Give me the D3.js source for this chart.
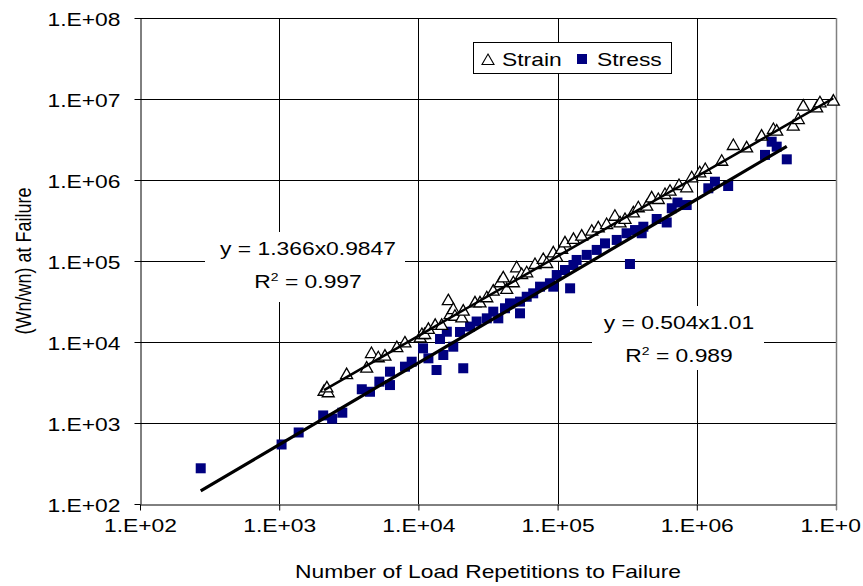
<!DOCTYPE html>
<html><head><meta charset="utf-8">
<script src="https://cdn.jsdelivr.net/npm/d3@7"></script>
<style>
body{margin:0;background:#fff}
svg{display:block}
text{font-family:"Liberation Sans",Arial,Helvetica,sans-serif;fill:#000}
</style>
</head><body><div id="chart"></div>
<script>
// ---------- data ----------
const strainN=[2100,2250,2200,3050,4250,4600,5150,5750,7000,8000,10300,10600,11100,11800,13200,14700,16400,16900,17800,18300,20500,21000,25500,27700,31000,34500,38600,40700,43100,48100,50800,55200,60000,68800,78900,83500,93100,98600,107000,113000,130000,149000,176000,196000,225000,258000,281000,305000,350000,380000,437000,474000,529000,591000,642000,745000,846000,919000,1050000,1150000,1510000,1830000,2280000,2920000,3550000,3750000,4930000,5360000,5820000,7260000,7670000,9570000];
const strainW=[2430,2330,2680,3900,4700,7100,6300,6600,8400,9600,11100,12200,12200,14100,15800,15800,31900,21500,24800,20500,19600,23700,30000,30000,34700,41800,53100,61100,43900,53100,81300,67100,70500,89300,103000,91800,124000,109000,137000,165000,182000,200000,230000,253000,278000,352000,292000,321000,388000,448000,468000,594000,566000,653000,717000,843000,790000,1050000,1210000,1330000,1680000,2630000,2460000,3430000,4140000,3950000,4550000,5500000,8040000,7670000,8850000,9270000];
const stressN=[273,1040,1380,2070,2400,2840,3920,4490,5240,6250,6250,8010,8950,10800,11800,13500,14300,15100,16000,17800,19900,21000,23500,26200,31000,34500,37500,41900,45500,53700,53700,60000,66800,74800,88100,93100,98600,113000,123000,130000,137000,162000,191000,219000,266000,313000,331000,360000,413000,402000,515000,608000,661000,726000,846000,1210000,1350000,1680000,3090000,3450000,3750000,4430000];
const stressW=[276,543,764,1240,1130,1340,2610,2430,3240,2940,4300,4960,5710,8360,6290,4510,10900,6910,13400,8750,13300,4740,15500,17900,19600,23700,19600,26100,30000,22600,31500,36200,39900,48200,53100,48200,67100,77400,46000,89300,103000,119000,137000,165000,182000,220000,91800,241000,265000,220000,330000,299000,448000,527000,491000,790000,953000,843000,2040000,2970000,2580000,1800000];

const xTicks=[1e2,1e3,1e4,1e5,1e6,1e7];
// the last label is cut at the chart's right edge in the reference
const xTickLabels=["1.E+02","1.E+03","1.E+04","1.E+05","1.E+06","1.E+0"];
const yTicks=[1e2,1e3,1e4,1e5,1e6,1e7,1e8];
const yTickLabels=["1.E+02","1.E+03","1.E+04","1.E+05","1.E+06","1.E+07","1.E+08"];

const seriesNames=["Strain","Stress"];
const strainFit={a:1.366,b:0.9847,eq:"y = 1.366x0.9847",r2:"0.997"};
const stressFit={a:0.504,b:1.01,eq:"y = 0.504x1.01",r2:"0.989"};
const xTitle="Number of Load Repetitions to Failure";
const yTitle="(Wn/wn) at Failure";

// ---------- layout ----------
const W=863,H=586;
const L=140,R=836,T=18,B=504;
const SX=1.27; // horizontal text stretch seen in the reference
const FS=18;
const NAVY="#000080";

const svg=d3.select("#chart").append("svg").attr("width",W).attr("height",H);
svg.append("rect").attr("width",W).attr("height",H).attr("fill","#fff");

const x=d3.scaleLog().domain([1e2,1e7]).range([L,R]);
const y=d3.scaleLog().domain([1e2,1e8]).range([B,T]);

function txt(g,x0,y0,s,anchor){
  return g.append("text")
    .attr("transform",`translate(${x0},${y0}) scale(${SX},1)`)
    .attr("text-anchor",anchor).style("font-size",FS+"px").text(s);
}

// gridlines
const grid=svg.append("g");
grid.selectAll("line.h").data(yTicks.slice(1)).enter().append("line")
  .attr("x1",L).attr("x2",R)
  .attr("y1",d=>Math.round(y(d))+0.5).attr("y2",d=>Math.round(y(d))+0.5)
  .attr("stroke","#000").attr("stroke-width",1);
grid.selectAll("line.v").data(xTicks.slice(1,-1)).enter().append("line")
  .attr("y1",T).attr("y2",B)
  .attr("x1",d=>Math.round(x(d))+0.5).attr("x2",d=>Math.round(x(d))+0.5)
  .attr("stroke","#000").attr("stroke-width",1);
// right border (gray)
grid.append("line").attr("x1",Math.round(x(1e7))+0.5).attr("x2",Math.round(x(1e7))+0.5)
  .attr("y1",T).attr("y2",B+6).attr("stroke","#808080").attr("stroke-width",1.5);

// axes
const yAxis=svg.append("g").attr("transform",`translate(${L+0.5},0)`)
  .call(d3.axisLeft(y).tickValues(yTicks).tickFormat((d,i)=>yTickLabels[i]).tickSize(6).tickSizeOuter(0));
yAxis.select(".domain").attr("stroke","#000");
yAxis.selectAll(".tick line").attr("stroke","#000");
yAxis.selectAll(".tick text")
  .attr("x",null).attr("dy",null)
  .attr("transform",`translate(-20,7) scale(${SX},1)`)
  .attr("text-anchor","end").attr("fill","#000")
  .style("font-size",FS+"px").style("font-family","'Liberation Sans',Arial,sans-serif");

const xAxis=svg.append("g").attr("transform",`translate(0,${B+0.5})`)
  .call(d3.axisBottom(x).tickValues(xTicks).tickFormat((d,i)=>xTickLabels[i]).tickSize(6).tickSizeOuter(0));
xAxis.select(".domain").attr("stroke","#000");
xAxis.selectAll(".tick line").attr("stroke",(d,i)=>i===xTicks.length-1?"#808080":"#000");
const last=xTicks.length-1;
xAxis.selectAll(".tick text")
  .attr("y",null).attr("dy",null)
  .attr("transform",(d,i)=>i===last?`translate(-36,27) scale(${SX},1)`:`translate(0,27) scale(${SX},1)`)
  .attr("text-anchor",(d,i)=>i===last?"start":"middle").attr("fill","#000")
  .style("font-size",FS+"px").style("font-family","'Liberation Sans',Arial,sans-serif");

// markers
const sq=10;
svg.append("g").selectAll("rect").data(stressN.map((n,i)=>[n,stressW[i]])).enter().append("rect")
  .attr("x",d=>x(d[0])-sq/2).attr("y",d=>y(d[1])-sq/2)
  .attr("width",sq).attr("height",sq).attr("fill",NAVY);

function triPath(w,h){return `M0,${-h*2/3}L${w/2},${h/3}L${-w/2},${h/3}Z`;}
svg.append("g").selectAll("path").data(strainN.map((n,i)=>[n,strainW[i]])).enter().append("path")
  .attr("d",triPath(12,10.5))
  .attr("transform",d=>`translate(${x(d[0])},${y(d[1])})`)
  .attr("fill","#fff").attr("stroke","#000").attr("stroke-width",1.3);

// trendlines
function fitLine(fit,nArr,width){
  const n0=d3.min(nArr),n1=d3.max(nArr);
  const pts=d3.range(0,11).map(k=>{const n=n0*Math.pow(n1/n0,k/10);return [n,fit.a*Math.pow(n,fit.b)];});
  svg.append("path").datum(pts)
    .attr("d",d3.line().x(d=>x(d[0])).y(d=>y(d[1])))
    .attr("fill","none").attr("stroke","#000").attr("stroke-width",width);
}
fitLine(strainFit,strainN,2.5);
fitLine(stressFit,stressN,3.2);

// equation labels
function eqLabel(fit,cx,by,box){
  svg.append("rect").attr("x",box[0]).attr("y",box[1]).attr("width",box[2]).attr("height",box[3]).attr("fill","#fff");
  txt(svg,cx,by,fit.eq,"middle");
  const t=svg.append("text")
    .attr("transform",`translate(${cx},${by+33}) scale(${SX},1)`)
    .attr("text-anchor","middle").style("font-size",FS+"px");
  t.append("tspan").text("R");
  t.append("tspan").attr("dy",-7).style("font-size","11px").text("2");
  t.append("tspan").attr("dy",7).text(" = "+fit.r2);
}
eqLabel(strainFit,308,255,[205,232,200,70]);
eqLabel(stressFit,679,329,[592,306,172,64]);

// legend
const lg=svg.append("g");
lg.append("rect").attr("x",473.5).attr("y",42.5).attr("width",198).attr("height",31)
  .attr("fill","#fff").attr("stroke","#000").attr("stroke-width",1);
lg.append("path").attr("d",triPath(12,10.5)).attr("transform","translate(488,61)")
  .attr("fill","#fff").attr("stroke","#000").attr("stroke-width",1.1);
txt(lg,502,66,seriesNames[0],"start");
lg.append("rect").attr("x",577).attr("y",54).attr("width",10).attr("height",10).attr("fill",NAVY);
txt(lg,597,66,seriesNames[1],"start");

// axis titles
txt(svg,(L+R)/2,578,xTitle,"middle");
svg.append("text")
  .attr("transform",`translate(31,${(T+B)/2}) scale(${SX},1) rotate(-90)`)
  .attr("text-anchor","middle").style("font-size",FS+"px").text(yTitle);
</script>
</body></html>
